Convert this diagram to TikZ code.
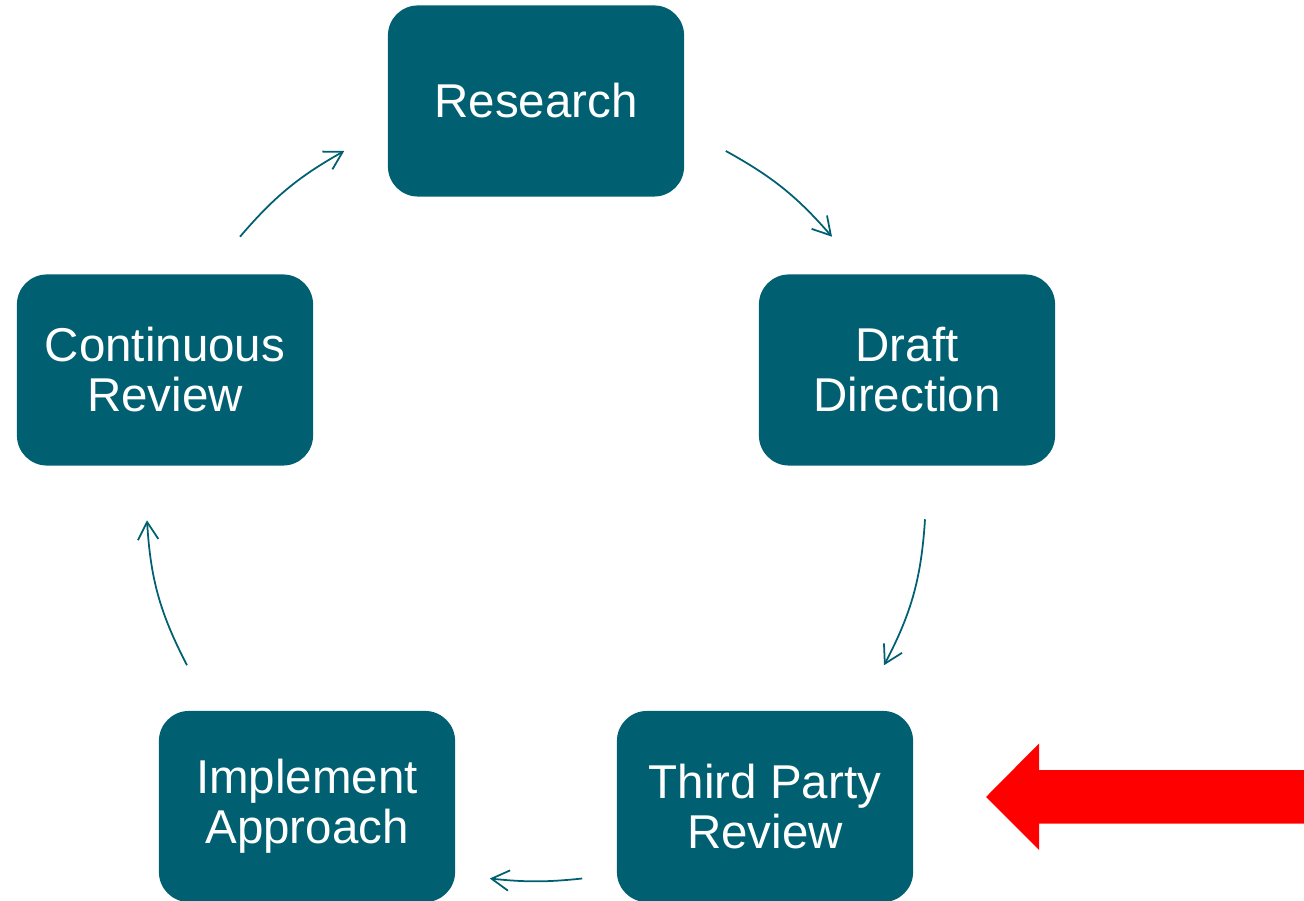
\documentclass[tikz,border=0pt]{standalone}
\usepackage{fontspec}
\setmainfont{Liberation Sans}
\usepackage{tikz}
\usetikzlibrary{arrows.meta, calc}
\definecolor{cycteal}{RGB}{0,96,114}
\definecolor{markred}{RGB}{255,0,0}

\begin{document}
\begin{tikzpicture}[x=0.01cm, y=0.01cm, font=\fontsize{13.5}{14.2}\selectfont,
      stage/.style={fill=cycteal, text=white, rounded corners=0.3cm, minimum width=2.96cm, minimum height=1.91cm, inner sep=0pt, align=center},
      cyc/.style={-{Straight Barb[length=5pt, width=5.8pt]}, line width=0.5pt, cycteal}]
    \useasboundingbox (0,0) rectangle (1304,-901);
    \node[stage] (res) at (536,-101) {Research};
    \node[stage] (dft) at (907,-370) {Draft\\Direction};
    \node[stage] (tpr) at (765,-806.5) {Third Party\\Review};
    \node[stage] (imp) at (307,-806.5) {Implement\\Approach};
    \node[stage] (crv) at (165,-370) {Continuous\\Review};
    % arc ends, kept clear of the boxes
    \coordinate (resout) at ($(res.east)+(41,-50)$);
    \coordinate (dftin) at ($(dft.north)+(-75,37)$);
    \coordinate (dftout) at ($(dft.south)+(18,-53)$);
    \coordinate (tprin) at ($(tpr.north)+(119,45)$);
    \coordinate (tprout) at ($(tpr.west)+(-34,-72)$);
    \coordinate (impin) at ($(imp.east)+(34,-72)$);
    \coordinate (impout) at ($(imp.north)+(-120,45)$);
    \coordinate (crvin) at ($(crv.south)+(-18,-54)$);
    \coordinate (crvout) at ($(crv.north)+(75,37)$);
    \coordinate (resin) at ($(res.west)+(-43,-50)$);
    \draw[cyc] (resout) to[bend left=10] (dftin);
    \draw[cyc] (dftout) to[bend left=12] (tprin);
    \draw[cyc] (tprout) to[bend left=6] (impin);
    \draw[cyc] (impout) to[bend left=12] (crvin);
    \draw[cyc] (crvout) to[bend left=10] (resin);
    % pointer at the review step
    \fill[markred] (986,-797) -- (1039,-743.5) -- (1039,-770) -- (1304,-770)
      -- (1304,-823.5) -- (1039,-823.5) -- (1039,-850) -- cycle;
\end{tikzpicture}
\end{document}
